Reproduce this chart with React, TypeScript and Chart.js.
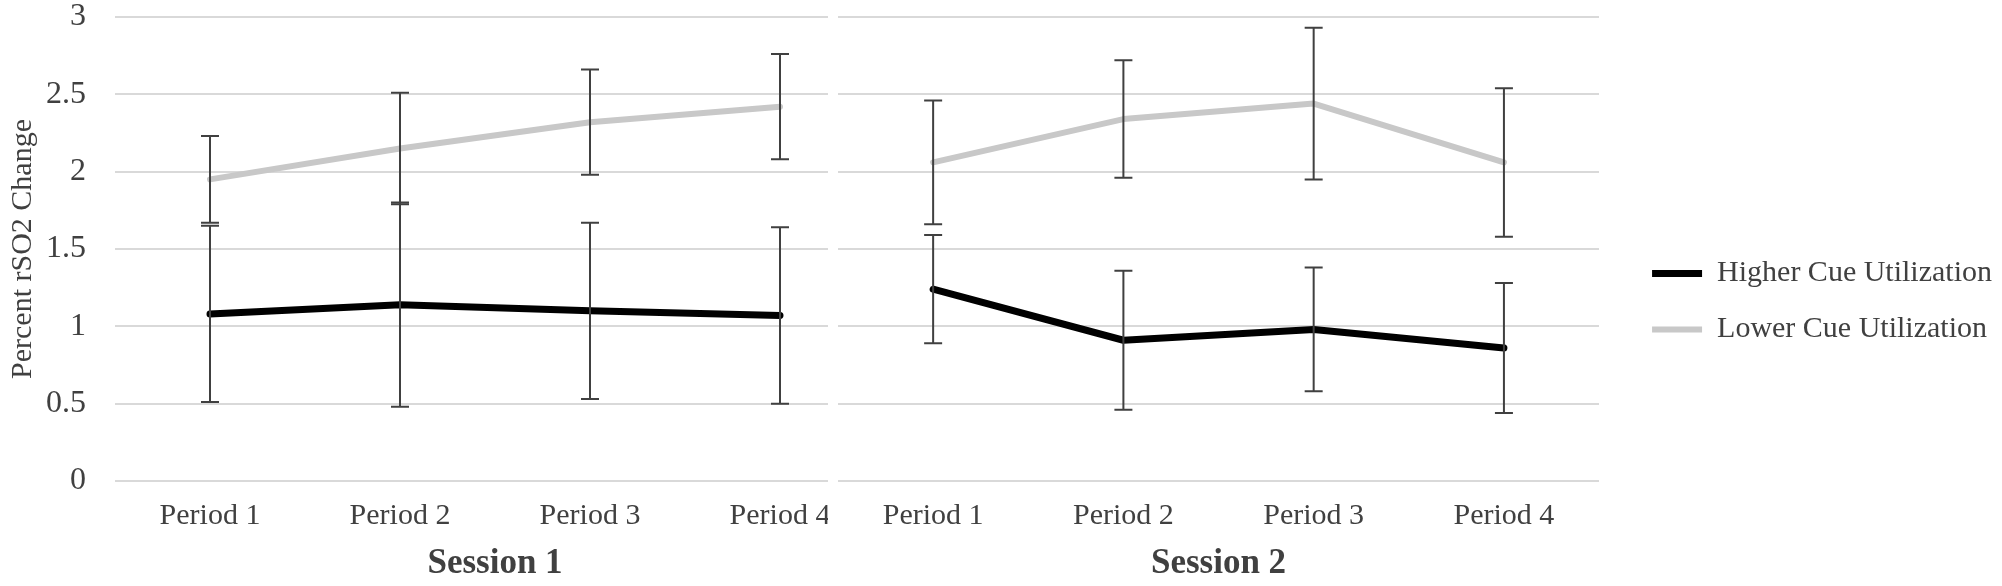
import React, { useEffect, useRef } from 'react';
import { Chart, registerables } from 'chart.js';

Chart.register(...registerables);

// ---- data ----
const categories = ['Period 1', 'Period 2', 'Period 3', 'Period 4'];
const sessions = ['Session 1', 'Session 2'];
const seriesNames = ['Higher Cue Utilization', 'Lower Cue Utilization'];
const yTicks = [0, 0.5, 1, 1.5, 2, 2.5, 3];

const higherS1 = [1.08, 1.14, 1.1, 1.07];
const higherS1Err = [0.57, 0.66, 0.57, 0.57];
const lowerS1 = [1.95, 2.15, 2.32, 2.42];
const lowerS1Err = [0.28, 0.36, 0.34, 0.34];

const higherS2 = [1.24, 0.91, 0.98, 0.86];
const higherS2Err = [0.35, 0.45, 0.4, 0.42];
const lowerS2 = [2.06, 2.34, 2.44, 2.06];
const lowerS2Err = [0.4, 0.38, 0.49, 0.48];

const FONT = "'Liberation Serif', 'Times New Roman', serif";
const TEXT = '#404040';
const GRID = '#d9d9d9';

const errorBarsPlugin = {
  id: 'errorBars',
  afterDatasetsDraw(chart: any) {
    const ctx = chart.ctx;
    const y = chart.scales.y;
    chart.data.datasets.forEach((ds: any, i: number) => {
      const meta = chart.getDatasetMeta(i);
      const errs = ds.errors;
      if (!errs || meta.hidden) return;
      ctx.save();
      ctx.strokeStyle = '#404040';
      ctx.lineWidth = 2;
      meta.data.forEach((pt: any, j: number) => {
        const v = ds.data[j];
        const e = errs[j];
        const yTop = y.getPixelForValue(v + e);
        const yBot = y.getPixelForValue(v - e);
        const x = pt.x;
        ctx.beginPath();
        ctx.moveTo(x, yTop);
        ctx.lineTo(x, yBot);
        ctx.moveTo(x - 9, yTop);
        ctx.lineTo(x + 9, yTop);
        ctx.moveTo(x - 9, yBot);
        ctx.lineTo(x + 9, yBot);
        ctx.stroke();
      });
      ctx.restore();
    });
  },
};

function makeConfig(
  session: string,
  higher: number[],
  higherErr: number[],
  lower: number[],
  lowerErr: number[],
  first: boolean
): any {
  return {
    type: 'line',
    data: {
      labels: categories,
      datasets: [
        {
          label: seriesNames[0],
          data: higher,
          errors: higherErr,
          borderColor: '#000000',
          backgroundColor: '#000000',
          borderWidth: 7,
          borderCapStyle: 'round',
          borderJoinStyle: 'round',
          pointRadius: 0,
          pointHoverRadius: 0,
          tension: 0,
        },
        {
          label: seriesNames[1],
          data: lower,
          errors: lowerErr,
          borderColor: '#c8c8c8',
          backgroundColor: '#c8c8c8',
          borderWidth: 6,
          borderCapStyle: 'round',
          borderJoinStyle: 'round',
          pointRadius: 0,
          pointHoverRadius: 0,
          tension: 0,
        },
      ],
    },
    options: {
      responsive: false,
      animation: false,
      devicePixelRatio: 1,
      layout: { padding: { top: 17, right: 0, left: 0, bottom: 0 } },
      plugins: {
        tooltip: { enabled: false },
        legend: first
          ? { display: false }
          : {
              display: true,
              position: 'right',
              align: 'center',
              maxWidth: 420,
              labels: {
                usePointStyle: true,
                pointStyle: 'line',
                pointStyleWidth: 50,
                padding: 26,
                color: TEXT,
                font: { family: FONT, size: 30 },
              },
            },
      },
      scales: {
        x: {
          type: 'category',
          offset: true,
          grid: { display: false, drawTicks: false },
          border: { display: false },
          ticks: {
            color: TEXT,
            font: { family: FONT, size: 30 },
            padding: 17,
            autoSkip: false,
            maxRotation: 0,
          },
          title: {
            display: true,
            text: session,
            color: TEXT,
            font: { family: FONT, size: 35, weight: 'bold' },
            padding: { top: 0, bottom: 1 },
          },
          afterFit: (s: any) => {
            s.height = 105;
          },
        },
        y: {
          position: first ? 'left' : 'right',
          min: yTicks[0],
          max: yTicks[yTicks.length - 1],
          afterBuildTicks: (s: any) => {
            s.ticks = yTicks.map((v) => ({ value: v }));
          },
          grid: { color: GRID, lineWidth: 2, drawTicks: false },
          border: { display: false },
          ticks: {
            display: first,
            color: TEXT,
            font: { family: FONT, size: 32, lineHeight: 1 },
            padding: 29,
            callback: (v: any) => String(Number(v)),
          },
          title: {
            display: first,
            text: 'Percent rSO2 Change',
            color: TEXT,
            font: { family: FONT, size: 30 },
            padding: { top: 5, bottom: 0 },
          },
          afterFit: (s: any) => {
            s.width = first ? 115 : 27;
            s.paddingTop = 0;
            s.paddingBottom = 0;
          },
        },
      },
    },
    plugins: [errorBarsPlugin],
  };
}

function Panel(props: {
  left: number;
  clipWidth: number;
  width: number;
  config: any;
}) {
  const ref = useRef<HTMLCanvasElement | null>(null);
  useEffect(() => {
    if (!ref.current) return;
    const chart = new Chart(ref.current, props.config);
    return () => chart.destroy();
  }, []);
  return (
    <div
      style={{
        position: 'absolute',
        left: props.left,
        top: 0,
        width: props.clipWidth,
        height: 586,
        overflow: 'hidden',
      }}
    >
      <canvas ref={ref} width={props.width} height={586} style={{ display: 'block' }} />
    </div>
  );
}

export default function App() {
  useEffect(() => {
    document.body.style.margin = '0';
    document.body.style.overflow = 'hidden';
    document.body.style.background = '#ffffff';
  }, []);
  const cfg1 = makeConfig(sessions[0], higherS1, higherS1Err, lowerS1, lowerS1Err, true);
  const cfg2 = makeConfig(sessions[1], higherS2, higherS2Err, lowerS2, lowerS2Err, false);
  return (
    <div style={{ position: 'relative', width: 2002, height: 586, background: '#ffffff' }}>
      <Panel left={0} clipWidth={828} width={875} config={cfg1} />
      <Panel left={838} clipWidth={1164} width={1164} config={cfg2} />
    </div>
  );
}
